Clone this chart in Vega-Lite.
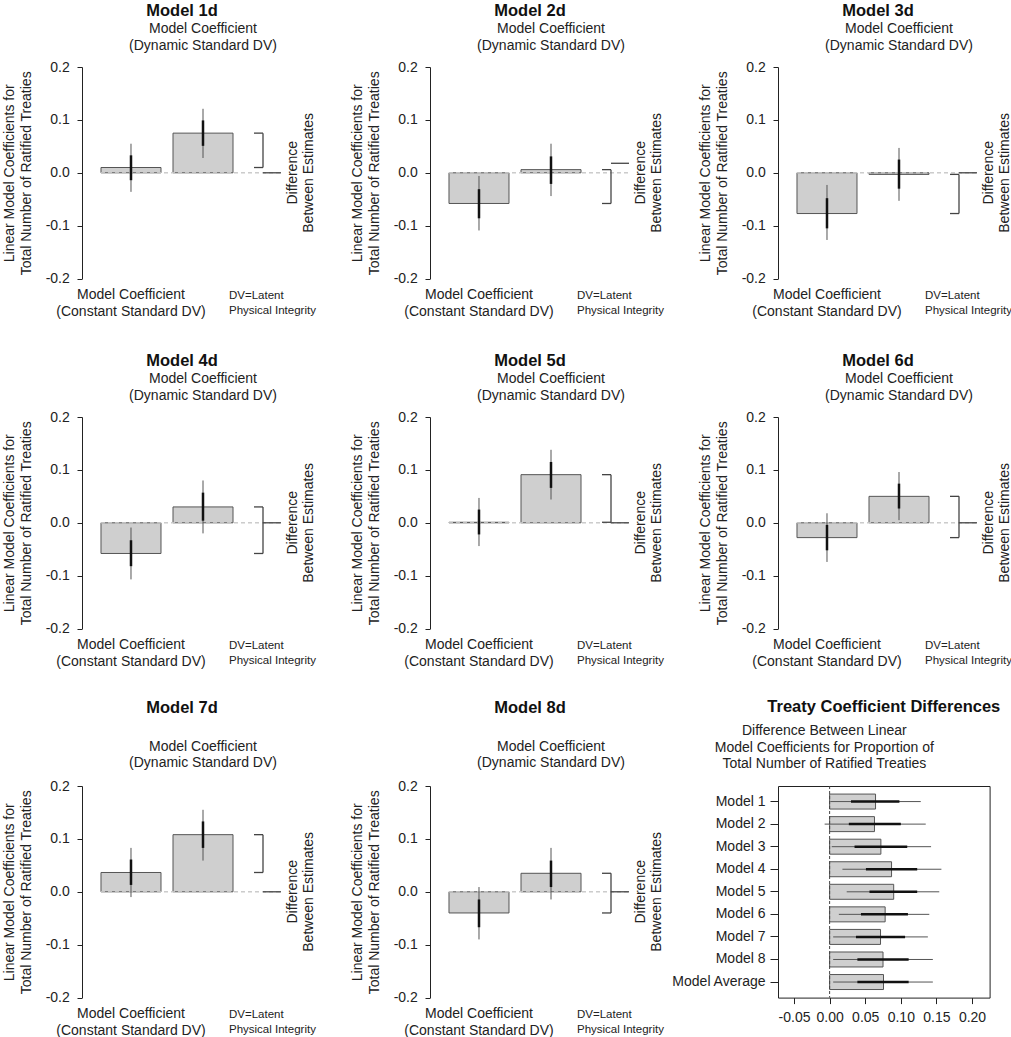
{
  "$schema": "https://vega.github.io/schema/vega-lite/v6.json",
  "padding": {"left": 2, "top": 2, "right": 0, "bottom": 0},
  "datasets": {
    "coef": [
      {"model": "1d", "dv": "Constant", "est": 0.010, "lo95": -0.036, "hi95": 0.055, "lo": -0.014, "hi": 0.033, "ref": 0},
      {"model": "1d", "dv": "Dynamic", "est": 0.075, "lo95": 0.028, "hi95": 0.121, "lo": 0.051, "hi": 0.099, "ref": 0},
      {"model": "2d", "dv": "Constant", "est": -0.058, "lo95": -0.109, "hi95": -0.006, "lo": -0.086, "hi": -0.031, "ref": 0.018},
      {"model": "2d", "dv": "Dynamic", "est": 0.006, "lo95": -0.044, "hi95": 0.055, "lo": -0.021, "hi": 0.031, "ref": 0.018},
      {"model": "3d", "dv": "Constant", "est": -0.077, "lo95": -0.127, "hi95": -0.023, "lo": -0.105, "hi": -0.048, "ref": 0},
      {"model": "3d", "dv": "Dynamic", "est": -0.003, "lo95": -0.053, "hi95": 0.047, "lo": -0.030, "hi": 0.025, "ref": 0},
      {"model": "4d", "dv": "Constant", "est": -0.058, "lo95": -0.107, "hi95": -0.009, "lo": -0.082, "hi": -0.033, "ref": 0},
      {"model": "4d", "dv": "Dynamic", "est": 0.030, "lo95": -0.020, "hi95": 0.080, "lo": 0.004, "hi": 0.057, "ref": 0},
      {"model": "5d", "dv": "Constant", "est": 0.001, "lo95": -0.044, "hi95": 0.047, "lo": -0.022, "hi": 0.025, "ref": 0},
      {"model": "5d", "dv": "Dynamic", "est": 0.091, "lo95": 0.044, "hi95": 0.138, "lo": 0.066, "hi": 0.115, "ref": 0},
      {"model": "6d", "dv": "Constant", "est": -0.028, "lo95": -0.074, "hi95": 0.018, "lo": -0.052, "hi": -0.004, "ref": 0},
      {"model": "6d", "dv": "Dynamic", "est": 0.050, "lo95": 0.005, "hi95": 0.096, "lo": 0.027, "hi": 0.074, "ref": 0},
      {"model": "7d", "dv": "Constant", "est": 0.0365, "lo95": -0.010, "hi95": 0.083, "lo": 0.013, "hi": 0.061, "ref": 0},
      {"model": "7d", "dv": "Dynamic", "est": 0.108, "lo95": 0.059, "hi95": 0.155, "lo": 0.083, "hi": 0.133, "ref": 0},
      {"model": "8d", "dv": "Constant", "est": -0.040, "lo95": -0.090, "hi95": 0.009, "lo": -0.067, "hi": -0.0145, "ref": 0},
      {"model": "8d", "dv": "Dynamic", "est": 0.035, "lo95": -0.0145, "hi95": 0.083, "lo": 0.009, "hi": 0.059, "ref": 0}
    ],
    "diff": [
      {"model": "Model 1", "est": 0.0645, "lo95": 0.001, "hi95": 0.128, "lo": 0.030, "hi": 0.098},
      {"model": "Model 2", "est": 0.063, "lo95": -0.007, "hi95": 0.135, "lo": 0.027, "hi": 0.100},
      {"model": "Model 3", "est": 0.072, "lo95": 0.003, "hi95": 0.1425, "lo": 0.035, "hi": 0.109},
      {"model": "Model 4", "est": 0.087, "lo95": 0.018, "hi95": 0.157, "lo": 0.051, "hi": 0.123},
      {"model": "Model 5", "est": 0.090, "lo95": 0.024, "hi95": 0.154, "lo": 0.056, "hi": 0.123},
      {"model": "Model 6", "est": 0.078, "lo95": 0.013, "hi95": 0.140, "lo": 0.044, "hi": 0.110},
      {"model": "Model 7", "est": 0.0715, "lo95": 0.005, "hi95": 0.138, "lo": 0.037, "hi": 0.106},
      {"model": "Model 8", "est": 0.075, "lo95": 0.005, "hi95": 0.145, "lo": 0.039, "hi": 0.111},
      {"model": "Model Average", "est": 0.0757, "lo95": 0.005, "hi95": 0.145, "lo": 0.039, "hi": 0.111}
    ]
  },
  "bounds": "full",
  "spacing": 29,
  "vconcat": [
    {
      "bounds": "full",
      "spacing": 33,
      "vconcat": [
        {
          "hconcat": [
            {
              "width": 200, "height": 211.6,
              "title": {"text": "Model 1d", "offset": 3},
              "data": {"name": "coef"},
              "transform": [{"filter": "datum.model == '1d'"}],
              "layer": [
                {"mark": {"type": "bar", "fill": "#cfcfcf", "stroke": "#555", "strokeWidth": 1},
                 "encoding": {
                   "x": {"field": "dv", "type": "nominal", "scale": {"domain": ["Constant", "Dynamic"], "paddingInner": 0.1667, "paddingOuter": 0.4722, "align": 0.2794}, "axis": null},
                   "y": {"field": "est", "type": "quantitative", "scale": {"domain": [-0.2, 0.2], "nice": false},
                         "axis": {"values": [-0.2, -0.1, 0, 0.1, 0.2], "labelExpr": "replace(format(datum.value, '.1f'), '\u2212', '-')", "title": ["Linear Model Coefficients for", "Total Number of Ratified Treaties"]}},
                   "y2": {"datum": 0}}},
                {"mark": {"type": "rule", "color": "#c8c8c8", "strokeDash": [4, 3]},
                 "encoding": {"x": {"datum": "Constant", "bandPosition": 0}, "x2": {"datum": "Dynamic", "bandPosition": 1.8}, "y": {"datum": 0}}},
                {"mark": {"type": "rule", "color": "#555", "strokeWidth": 1},
                 "encoding": {"x": {"field": "dv", "type": "nominal"}, "y": {"field": "lo95", "type": "quantitative"}, "y2": {"field": "hi95"}}},
                {"mark": {"type": "rule", "color": "#111", "strokeWidth": 2.5},
                 "encoding": {"x": {"field": "dv", "type": "nominal"}, "y": {"field": "lo", "type": "quantitative"}, "y2": {"field": "hi"}}},
                {"transform": [{"aggregate": [{"op": "min", "field": "est", "as": "lo_est"}, {"op": "max", "field": "est", "as": "hi_est"}]}],
                 "mark": {"type": "rule", "color": "#444", "strokeWidth": 1.3},
                 "encoding": {"x": {"datum": "Dynamic", "bandPosition": 1.5}, "y": {"field": "lo_est", "type": "quantitative"}, "y2": {"field": "hi_est"}}},
                {"mark": {"type": "rule", "color": "#444", "strokeWidth": 1.3},
                 "encoding": {"x": {"datum": "Dynamic", "bandPosition": 1.35}, "x2": {"datum": "Dynamic", "bandPosition": 1.5}, "y": {"field": "est", "type": "quantitative"}}},
                {"transform": [{"filter": "datum.dv == 'Dynamic'"}],
                 "mark": {"type": "rule", "color": "#444", "strokeWidth": 1.3},
                 "encoding": {"x": {"datum": "Dynamic", "bandPosition": 1.5}, "x2": {"datum": "Dynamic", "bandPosition": 1.8}, "y": {"field": "ref", "type": "quantitative"}}},
                {"transform": [{"filter": "datum.dv == 'Dynamic'"}],
                 "mark": {"type": "text", "fontSize": 14, "lineHeight": 16.7, "align": "center", "baseline": "alphabetic"},
                 "encoding": {"x": {"datum": "Dynamic", "bandPosition": 0.5}, "y": {"datum": 0.2637}, "text": {"value": ["Model Coefficient", "(Dynamic Standard DV)"]}}},
                {"transform": [{"filter": "datum.dv == 'Dynamic'"}],
                 "mark": {"type": "text", "fontSize": 14, "lineHeight": 16.7, "align": "center", "baseline": "alphabetic"},
                 "encoding": {"x": {"datum": "Constant", "bandPosition": 0.5}, "y": {"datum": -0.2391}, "text": {"value": ["Model Coefficient", "(Constant Standard DV)"]}}},
                {"transform": [{"filter": "datum.dv == 'Dynamic'"}],
                 "mark": {"type": "text", "fontSize": 11.5, "lineHeight": 15, "align": "left", "baseline": "alphabetic"},
                 "encoding": {"x": {"datum": "Dynamic", "bandPosition": 0.933}, "y": {"datum": -0.2391}, "text": {"value": ["DV=Latent", "Physical Integrity"]}}},
                {"transform": [{"filter": "datum.dv == 'Dynamic'"}],
                 "mark": {"type": "text", "fontSize": 14, "lineHeight": 16, "align": "center", "baseline": "alphabetic", "angle": 270},
                 "encoding": {"x": {"datum": "Dynamic", "bandPosition": 2.067}, "y": {"datum": 0}, "text": {"value": ["Difference", "Between Estimates"]}}}
              ]
            },
            {
              "width": 200, "height": 211.6,
              "title": {"text": "Model 2d", "offset": 3},
              "data": {"name": "coef"},
              "transform": [{"filter": "datum.model == '2d'"}],
              "layer": [
                {"mark": {"type": "bar", "fill": "#cfcfcf", "stroke": "#555", "strokeWidth": 1},
                 "encoding": {
                   "x": {"field": "dv", "type": "nominal", "scale": {"domain": ["Constant", "Dynamic"], "paddingInner": 0.1667, "paddingOuter": 0.4722, "align": 0.2794}, "axis": null},
                   "y": {"field": "est", "type": "quantitative", "scale": {"domain": [-0.2, 0.2], "nice": false},
                         "axis": {"values": [-0.2, -0.1, 0, 0.1, 0.2], "labelExpr": "replace(format(datum.value, '.1f'), '\u2212', '-')", "title": ["Linear Model Coefficients for", "Total Number of Ratified Treaties"]}},
                   "y2": {"datum": 0}}},
                {"mark": {"type": "rule", "color": "#c8c8c8", "strokeDash": [4, 3]},
                 "encoding": {"x": {"datum": "Constant", "bandPosition": 0}, "x2": {"datum": "Dynamic", "bandPosition": 1.8}, "y": {"datum": 0}}},
                {"mark": {"type": "rule", "color": "#555", "strokeWidth": 1},
                 "encoding": {"x": {"field": "dv", "type": "nominal"}, "y": {"field": "lo95", "type": "quantitative"}, "y2": {"field": "hi95"}}},
                {"mark": {"type": "rule", "color": "#111", "strokeWidth": 2.5},
                 "encoding": {"x": {"field": "dv", "type": "nominal"}, "y": {"field": "lo", "type": "quantitative"}, "y2": {"field": "hi"}}},
                {"transform": [{"aggregate": [{"op": "min", "field": "est", "as": "lo_est"}, {"op": "max", "field": "est", "as": "hi_est"}]}],
                 "mark": {"type": "rule", "color": "#444", "strokeWidth": 1.3},
                 "encoding": {"x": {"datum": "Dynamic", "bandPosition": 1.5}, "y": {"field": "lo_est", "type": "quantitative"}, "y2": {"field": "hi_est"}}},
                {"mark": {"type": "rule", "color": "#444", "strokeWidth": 1.3},
                 "encoding": {"x": {"datum": "Dynamic", "bandPosition": 1.35}, "x2": {"datum": "Dynamic", "bandPosition": 1.5}, "y": {"field": "est", "type": "quantitative"}}},
                {"transform": [{"filter": "datum.dv == 'Dynamic'"}],
                 "mark": {"type": "rule", "color": "#444", "strokeWidth": 1.3},
                 "encoding": {"x": {"datum": "Dynamic", "bandPosition": 1.5}, "x2": {"datum": "Dynamic", "bandPosition": 1.8}, "y": {"field": "ref", "type": "quantitative"}}},
                {"transform": [{"filter": "datum.dv == 'Dynamic'"}],
                 "mark": {"type": "text", "fontSize": 14, "lineHeight": 16.7, "align": "center", "baseline": "alphabetic"},
                 "encoding": {"x": {"datum": "Dynamic", "bandPosition": 0.5}, "y": {"datum": 0.2637}, "text": {"value": ["Model Coefficient", "(Dynamic Standard DV)"]}}},
                {"transform": [{"filter": "datum.dv == 'Dynamic'"}],
                 "mark": {"type": "text", "fontSize": 14, "lineHeight": 16.7, "align": "center", "baseline": "alphabetic"},
                 "encoding": {"x": {"datum": "Constant", "bandPosition": 0.5}, "y": {"datum": -0.2391}, "text": {"value": ["Model Coefficient", "(Constant Standard DV)"]}}},
                {"transform": [{"filter": "datum.dv == 'Dynamic'"}],
                 "mark": {"type": "text", "fontSize": 11.5, "lineHeight": 15, "align": "left", "baseline": "alphabetic"},
                 "encoding": {"x": {"datum": "Dynamic", "bandPosition": 0.933}, "y": {"datum": -0.2391}, "text": {"value": ["DV=Latent", "Physical Integrity"]}}},
                {"transform": [{"filter": "datum.dv == 'Dynamic'"}],
                 "mark": {"type": "text", "fontSize": 14, "lineHeight": 16, "align": "center", "baseline": "alphabetic", "angle": 270},
                 "encoding": {"x": {"datum": "Dynamic", "bandPosition": 2.067}, "y": {"datum": 0}, "text": {"value": ["Difference", "Between Estimates"]}}}
              ]
            },
            {
              "width": 200, "height": 211.6,
              "title": {"text": "Model 3d", "offset": 3},
              "data": {"name": "coef"},
              "transform": [{"filter": "datum.model == '3d'"}],
              "layer": [
                {"mark": {"type": "bar", "fill": "#cfcfcf", "stroke": "#555", "strokeWidth": 1},
                 "encoding": {
                   "x": {"field": "dv", "type": "nominal", "scale": {"domain": ["Constant", "Dynamic"], "paddingInner": 0.1667, "paddingOuter": 0.4722, "align": 0.2794}, "axis": null},
                   "y": {"field": "est", "type": "quantitative", "scale": {"domain": [-0.2, 0.2], "nice": false},
                         "axis": {"values": [-0.2, -0.1, 0, 0.1, 0.2], "labelExpr": "replace(format(datum.value, '.1f'), '\u2212', '-')", "title": ["Linear Model Coefficients for", "Total Number of Ratified Treaties"]}},
                   "y2": {"datum": 0}}},
                {"mark": {"type": "rule", "color": "#c8c8c8", "strokeDash": [4, 3]},
                 "encoding": {"x": {"datum": "Constant", "bandPosition": 0}, "x2": {"datum": "Dynamic", "bandPosition": 1.8}, "y": {"datum": 0}}},
                {"mark": {"type": "rule", "color": "#555", "strokeWidth": 1},
                 "encoding": {"x": {"field": "dv", "type": "nominal"}, "y": {"field": "lo95", "type": "quantitative"}, "y2": {"field": "hi95"}}},
                {"mark": {"type": "rule", "color": "#111", "strokeWidth": 2.5},
                 "encoding": {"x": {"field": "dv", "type": "nominal"}, "y": {"field": "lo", "type": "quantitative"}, "y2": {"field": "hi"}}},
                {"transform": [{"aggregate": [{"op": "min", "field": "est", "as": "lo_est"}, {"op": "max", "field": "est", "as": "hi_est"}]}],
                 "mark": {"type": "rule", "color": "#444", "strokeWidth": 1.3},
                 "encoding": {"x": {"datum": "Dynamic", "bandPosition": 1.5}, "y": {"field": "lo_est", "type": "quantitative"}, "y2": {"field": "hi_est"}}},
                {"mark": {"type": "rule", "color": "#444", "strokeWidth": 1.3},
                 "encoding": {"x": {"datum": "Dynamic", "bandPosition": 1.35}, "x2": {"datum": "Dynamic", "bandPosition": 1.5}, "y": {"field": "est", "type": "quantitative"}}},
                {"transform": [{"filter": "datum.dv == 'Dynamic'"}],
                 "mark": {"type": "rule", "color": "#444", "strokeWidth": 1.3},
                 "encoding": {"x": {"datum": "Dynamic", "bandPosition": 1.5}, "x2": {"datum": "Dynamic", "bandPosition": 1.8}, "y": {"field": "ref", "type": "quantitative"}}},
                {"transform": [{"filter": "datum.dv == 'Dynamic'"}],
                 "mark": {"type": "text", "fontSize": 14, "lineHeight": 16.7, "align": "center", "baseline": "alphabetic"},
                 "encoding": {"x": {"datum": "Dynamic", "bandPosition": 0.5}, "y": {"datum": 0.2637}, "text": {"value": ["Model Coefficient", "(Dynamic Standard DV)"]}}},
                {"transform": [{"filter": "datum.dv == 'Dynamic'"}],
                 "mark": {"type": "text", "fontSize": 14, "lineHeight": 16.7, "align": "center", "baseline": "alphabetic"},
                 "encoding": {"x": {"datum": "Constant", "bandPosition": 0.5}, "y": {"datum": -0.2391}, "text": {"value": ["Model Coefficient", "(Constant Standard DV)"]}}},
                {"transform": [{"filter": "datum.dv == 'Dynamic'"}],
                 "mark": {"type": "text", "fontSize": 11.5, "lineHeight": 15, "align": "left", "baseline": "alphabetic"},
                 "encoding": {"x": {"datum": "Dynamic", "bandPosition": 0.933}, "y": {"datum": -0.2391}, "text": {"value": ["DV=Latent", "Physical Integrity"]}}},
                {"transform": [{"filter": "datum.dv == 'Dynamic'"}],
                 "mark": {"type": "text", "fontSize": 14, "lineHeight": 16, "align": "center", "baseline": "alphabetic", "angle": 270},
                 "encoding": {"x": {"datum": "Dynamic", "bandPosition": 2.067}, "y": {"datum": 0}, "text": {"value": ["Difference", "Between Estimates"]}}}
              ]
            }
          ],
          "spacing": 148,
          "bounds": "flush"
        },
        {
          "hconcat": [
            {
              "width": 200, "height": 211.6,
              "title": {"text": "Model 4d", "offset": 3},
              "data": {"name": "coef"},
              "transform": [{"filter": "datum.model == '4d'"}],
              "layer": [
                {"mark": {"type": "bar", "fill": "#cfcfcf", "stroke": "#555", "strokeWidth": 1},
                 "encoding": {
                   "x": {"field": "dv", "type": "nominal", "scale": {"domain": ["Constant", "Dynamic"], "paddingInner": 0.1667, "paddingOuter": 0.4722, "align": 0.2794}, "axis": null},
                   "y": {"field": "est", "type": "quantitative", "scale": {"domain": [-0.2, 0.2], "nice": false},
                         "axis": {"values": [-0.2, -0.1, 0, 0.1, 0.2], "labelExpr": "replace(format(datum.value, '.1f'), '\u2212', '-')", "title": ["Linear Model Coefficients for", "Total Number of Ratified Treaties"]}},
                   "y2": {"datum": 0}}},
                {"mark": {"type": "rule", "color": "#c8c8c8", "strokeDash": [4, 3]},
                 "encoding": {"x": {"datum": "Constant", "bandPosition": 0}, "x2": {"datum": "Dynamic", "bandPosition": 1.8}, "y": {"datum": 0}}},
                {"mark": {"type": "rule", "color": "#555", "strokeWidth": 1},
                 "encoding": {"x": {"field": "dv", "type": "nominal"}, "y": {"field": "lo95", "type": "quantitative"}, "y2": {"field": "hi95"}}},
                {"mark": {"type": "rule", "color": "#111", "strokeWidth": 2.5},
                 "encoding": {"x": {"field": "dv", "type": "nominal"}, "y": {"field": "lo", "type": "quantitative"}, "y2": {"field": "hi"}}},
                {"transform": [{"aggregate": [{"op": "min", "field": "est", "as": "lo_est"}, {"op": "max", "field": "est", "as": "hi_est"}]}],
                 "mark": {"type": "rule", "color": "#444", "strokeWidth": 1.3},
                 "encoding": {"x": {"datum": "Dynamic", "bandPosition": 1.5}, "y": {"field": "lo_est", "type": "quantitative"}, "y2": {"field": "hi_est"}}},
                {"mark": {"type": "rule", "color": "#444", "strokeWidth": 1.3},
                 "encoding": {"x": {"datum": "Dynamic", "bandPosition": 1.35}, "x2": {"datum": "Dynamic", "bandPosition": 1.5}, "y": {"field": "est", "type": "quantitative"}}},
                {"transform": [{"filter": "datum.dv == 'Dynamic'"}],
                 "mark": {"type": "rule", "color": "#444", "strokeWidth": 1.3},
                 "encoding": {"x": {"datum": "Dynamic", "bandPosition": 1.5}, "x2": {"datum": "Dynamic", "bandPosition": 1.8}, "y": {"field": "ref", "type": "quantitative"}}},
                {"transform": [{"filter": "datum.dv == 'Dynamic'"}],
                 "mark": {"type": "text", "fontSize": 14, "lineHeight": 16.7, "align": "center", "baseline": "alphabetic"},
                 "encoding": {"x": {"datum": "Dynamic", "bandPosition": 0.5}, "y": {"datum": 0.2637}, "text": {"value": ["Model Coefficient", "(Dynamic Standard DV)"]}}},
                {"transform": [{"filter": "datum.dv == 'Dynamic'"}],
                 "mark": {"type": "text", "fontSize": 14, "lineHeight": 16.7, "align": "center", "baseline": "alphabetic"},
                 "encoding": {"x": {"datum": "Constant", "bandPosition": 0.5}, "y": {"datum": -0.2391}, "text": {"value": ["Model Coefficient", "(Constant Standard DV)"]}}},
                {"transform": [{"filter": "datum.dv == 'Dynamic'"}],
                 "mark": {"type": "text", "fontSize": 11.5, "lineHeight": 15, "align": "left", "baseline": "alphabetic"},
                 "encoding": {"x": {"datum": "Dynamic", "bandPosition": 0.933}, "y": {"datum": -0.2391}, "text": {"value": ["DV=Latent", "Physical Integrity"]}}},
                {"transform": [{"filter": "datum.dv == 'Dynamic'"}],
                 "mark": {"type": "text", "fontSize": 14, "lineHeight": 16, "align": "center", "baseline": "alphabetic", "angle": 270},
                 "encoding": {"x": {"datum": "Dynamic", "bandPosition": 2.067}, "y": {"datum": 0}, "text": {"value": ["Difference", "Between Estimates"]}}}
              ]
            },
            {
              "width": 200, "height": 211.6,
              "title": {"text": "Model 5d", "offset": 3},
              "data": {"name": "coef"},
              "transform": [{"filter": "datum.model == '5d'"}],
              "layer": [
                {"mark": {"type": "bar", "fill": "#cfcfcf", "stroke": "#555", "strokeWidth": 1},
                 "encoding": {
                   "x": {"field": "dv", "type": "nominal", "scale": {"domain": ["Constant", "Dynamic"], "paddingInner": 0.1667, "paddingOuter": 0.4722, "align": 0.2794}, "axis": null},
                   "y": {"field": "est", "type": "quantitative", "scale": {"domain": [-0.2, 0.2], "nice": false},
                         "axis": {"values": [-0.2, -0.1, 0, 0.1, 0.2], "labelExpr": "replace(format(datum.value, '.1f'), '\u2212', '-')", "title": ["Linear Model Coefficients for", "Total Number of Ratified Treaties"]}},
                   "y2": {"datum": 0}}},
                {"mark": {"type": "rule", "color": "#c8c8c8", "strokeDash": [4, 3]},
                 "encoding": {"x": {"datum": "Constant", "bandPosition": 0}, "x2": {"datum": "Dynamic", "bandPosition": 1.8}, "y": {"datum": 0}}},
                {"mark": {"type": "rule", "color": "#555", "strokeWidth": 1},
                 "encoding": {"x": {"field": "dv", "type": "nominal"}, "y": {"field": "lo95", "type": "quantitative"}, "y2": {"field": "hi95"}}},
                {"mark": {"type": "rule", "color": "#111", "strokeWidth": 2.5},
                 "encoding": {"x": {"field": "dv", "type": "nominal"}, "y": {"field": "lo", "type": "quantitative"}, "y2": {"field": "hi"}}},
                {"transform": [{"aggregate": [{"op": "min", "field": "est", "as": "lo_est"}, {"op": "max", "field": "est", "as": "hi_est"}]}],
                 "mark": {"type": "rule", "color": "#444", "strokeWidth": 1.3},
                 "encoding": {"x": {"datum": "Dynamic", "bandPosition": 1.5}, "y": {"field": "lo_est", "type": "quantitative"}, "y2": {"field": "hi_est"}}},
                {"mark": {"type": "rule", "color": "#444", "strokeWidth": 1.3},
                 "encoding": {"x": {"datum": "Dynamic", "bandPosition": 1.35}, "x2": {"datum": "Dynamic", "bandPosition": 1.5}, "y": {"field": "est", "type": "quantitative"}}},
                {"transform": [{"filter": "datum.dv == 'Dynamic'"}],
                 "mark": {"type": "rule", "color": "#444", "strokeWidth": 1.3},
                 "encoding": {"x": {"datum": "Dynamic", "bandPosition": 1.5}, "x2": {"datum": "Dynamic", "bandPosition": 1.8}, "y": {"field": "ref", "type": "quantitative"}}},
                {"transform": [{"filter": "datum.dv == 'Dynamic'"}],
                 "mark": {"type": "text", "fontSize": 14, "lineHeight": 16.7, "align": "center", "baseline": "alphabetic"},
                 "encoding": {"x": {"datum": "Dynamic", "bandPosition": 0.5}, "y": {"datum": 0.2637}, "text": {"value": ["Model Coefficient", "(Dynamic Standard DV)"]}}},
                {"transform": [{"filter": "datum.dv == 'Dynamic'"}],
                 "mark": {"type": "text", "fontSize": 14, "lineHeight": 16.7, "align": "center", "baseline": "alphabetic"},
                 "encoding": {"x": {"datum": "Constant", "bandPosition": 0.5}, "y": {"datum": -0.2391}, "text": {"value": ["Model Coefficient", "(Constant Standard DV)"]}}},
                {"transform": [{"filter": "datum.dv == 'Dynamic'"}],
                 "mark": {"type": "text", "fontSize": 11.5, "lineHeight": 15, "align": "left", "baseline": "alphabetic"},
                 "encoding": {"x": {"datum": "Dynamic", "bandPosition": 0.933}, "y": {"datum": -0.2391}, "text": {"value": ["DV=Latent", "Physical Integrity"]}}},
                {"transform": [{"filter": "datum.dv == 'Dynamic'"}],
                 "mark": {"type": "text", "fontSize": 14, "lineHeight": 16, "align": "center", "baseline": "alphabetic", "angle": 270},
                 "encoding": {"x": {"datum": "Dynamic", "bandPosition": 2.067}, "y": {"datum": 0}, "text": {"value": ["Difference", "Between Estimates"]}}}
              ]
            },
            {
              "width": 200, "height": 211.6,
              "title": {"text": "Model 6d", "offset": 3},
              "data": {"name": "coef"},
              "transform": [{"filter": "datum.model == '6d'"}],
              "layer": [
                {"mark": {"type": "bar", "fill": "#cfcfcf", "stroke": "#555", "strokeWidth": 1},
                 "encoding": {
                   "x": {"field": "dv", "type": "nominal", "scale": {"domain": ["Constant", "Dynamic"], "paddingInner": 0.1667, "paddingOuter": 0.4722, "align": 0.2794}, "axis": null},
                   "y": {"field": "est", "type": "quantitative", "scale": {"domain": [-0.2, 0.2], "nice": false},
                         "axis": {"values": [-0.2, -0.1, 0, 0.1, 0.2], "labelExpr": "replace(format(datum.value, '.1f'), '\u2212', '-')", "title": ["Linear Model Coefficients for", "Total Number of Ratified Treaties"]}},
                   "y2": {"datum": 0}}},
                {"mark": {"type": "rule", "color": "#c8c8c8", "strokeDash": [4, 3]},
                 "encoding": {"x": {"datum": "Constant", "bandPosition": 0}, "x2": {"datum": "Dynamic", "bandPosition": 1.8}, "y": {"datum": 0}}},
                {"mark": {"type": "rule", "color": "#555", "strokeWidth": 1},
                 "encoding": {"x": {"field": "dv", "type": "nominal"}, "y": {"field": "lo95", "type": "quantitative"}, "y2": {"field": "hi95"}}},
                {"mark": {"type": "rule", "color": "#111", "strokeWidth": 2.5},
                 "encoding": {"x": {"field": "dv", "type": "nominal"}, "y": {"field": "lo", "type": "quantitative"}, "y2": {"field": "hi"}}},
                {"transform": [{"aggregate": [{"op": "min", "field": "est", "as": "lo_est"}, {"op": "max", "field": "est", "as": "hi_est"}]}],
                 "mark": {"type": "rule", "color": "#444", "strokeWidth": 1.3},
                 "encoding": {"x": {"datum": "Dynamic", "bandPosition": 1.5}, "y": {"field": "lo_est", "type": "quantitative"}, "y2": {"field": "hi_est"}}},
                {"mark": {"type": "rule", "color": "#444", "strokeWidth": 1.3},
                 "encoding": {"x": {"datum": "Dynamic", "bandPosition": 1.35}, "x2": {"datum": "Dynamic", "bandPosition": 1.5}, "y": {"field": "est", "type": "quantitative"}}},
                {"transform": [{"filter": "datum.dv == 'Dynamic'"}],
                 "mark": {"type": "rule", "color": "#444", "strokeWidth": 1.3},
                 "encoding": {"x": {"datum": "Dynamic", "bandPosition": 1.5}, "x2": {"datum": "Dynamic", "bandPosition": 1.8}, "y": {"field": "ref", "type": "quantitative"}}},
                {"transform": [{"filter": "datum.dv == 'Dynamic'"}],
                 "mark": {"type": "text", "fontSize": 14, "lineHeight": 16.7, "align": "center", "baseline": "alphabetic"},
                 "encoding": {"x": {"datum": "Dynamic", "bandPosition": 0.5}, "y": {"datum": 0.2637}, "text": {"value": ["Model Coefficient", "(Dynamic Standard DV)"]}}},
                {"transform": [{"filter": "datum.dv == 'Dynamic'"}],
                 "mark": {"type": "text", "fontSize": 14, "lineHeight": 16.7, "align": "center", "baseline": "alphabetic"},
                 "encoding": {"x": {"datum": "Constant", "bandPosition": 0.5}, "y": {"datum": -0.2391}, "text": {"value": ["Model Coefficient", "(Constant Standard DV)"]}}},
                {"transform": [{"filter": "datum.dv == 'Dynamic'"}],
                 "mark": {"type": "text", "fontSize": 11.5, "lineHeight": 15, "align": "left", "baseline": "alphabetic"},
                 "encoding": {"x": {"datum": "Dynamic", "bandPosition": 0.933}, "y": {"datum": -0.2391}, "text": {"value": ["DV=Latent", "Physical Integrity"]}}},
                {"transform": [{"filter": "datum.dv == 'Dynamic'"}],
                 "mark": {"type": "text", "fontSize": 14, "lineHeight": 16, "align": "center", "baseline": "alphabetic", "angle": 270},
                 "encoding": {"x": {"datum": "Dynamic", "bandPosition": 2.067}, "y": {"datum": 0}, "text": {"value": ["Difference", "Between Estimates"]}}}
              ]
            }
          ],
          "spacing": 148,
          "bounds": "flush"
        }
      ]
    },
    {
      "hconcat": [
        {
          "width": 200, "height": 211.6,
          "title": {"text": "Model 7d", "offset": 23.5},
          "data": {"name": "coef"},
          "transform": [{"filter": "datum.model == '7d'"}],
          "layer": [
            {"mark": {"type": "bar", "fill": "#cfcfcf", "stroke": "#555", "strokeWidth": 1},
             "encoding": {
               "x": {"field": "dv", "type": "nominal", "scale": {"domain": ["Constant", "Dynamic"], "paddingInner": 0.1667, "paddingOuter": 0.4722, "align": 0.2794}, "axis": null},
               "y": {"field": "est", "type": "quantitative", "scale": {"domain": [-0.2, 0.2], "nice": false},
                     "axis": {"values": [-0.2, -0.1, 0, 0.1, 0.2], "labelExpr": "replace(format(datum.value, '.1f'), '\u2212', '-')", "title": ["Linear Model Coefficients for", "Total Number of Ratified Treaties"]}},
               "y2": {"datum": 0}}},
            {"mark": {"type": "rule", "color": "#c8c8c8", "strokeDash": [4, 3]},
             "encoding": {"x": {"datum": "Constant", "bandPosition": 0}, "x2": {"datum": "Dynamic", "bandPosition": 1.8}, "y": {"datum": 0}}},
            {"mark": {"type": "rule", "color": "#555", "strokeWidth": 1},
             "encoding": {"x": {"field": "dv", "type": "nominal"}, "y": {"field": "lo95", "type": "quantitative"}, "y2": {"field": "hi95"}}},
            {"mark": {"type": "rule", "color": "#111", "strokeWidth": 2.5},
             "encoding": {"x": {"field": "dv", "type": "nominal"}, "y": {"field": "lo", "type": "quantitative"}, "y2": {"field": "hi"}}},
            {"transform": [{"aggregate": [{"op": "min", "field": "est", "as": "lo_est"}, {"op": "max", "field": "est", "as": "hi_est"}]}],
             "mark": {"type": "rule", "color": "#444", "strokeWidth": 1.3},
             "encoding": {"x": {"datum": "Dynamic", "bandPosition": 1.5}, "y": {"field": "lo_est", "type": "quantitative"}, "y2": {"field": "hi_est"}}},
            {"mark": {"type": "rule", "color": "#444", "strokeWidth": 1.3},
             "encoding": {"x": {"datum": "Dynamic", "bandPosition": 1.35}, "x2": {"datum": "Dynamic", "bandPosition": 1.5}, "y": {"field": "est", "type": "quantitative"}}},
            {"transform": [{"filter": "datum.dv == 'Dynamic'"}],
             "mark": {"type": "rule", "color": "#444", "strokeWidth": 1.3},
             "encoding": {"x": {"datum": "Dynamic", "bandPosition": 1.5}, "x2": {"datum": "Dynamic", "bandPosition": 1.8}, "y": {"field": "ref", "type": "quantitative"}}},
            {"transform": [{"filter": "datum.dv == 'Dynamic'"}],
             "mark": {"type": "text", "fontSize": 14, "lineHeight": 16.7, "align": "center", "baseline": "alphabetic"},
             "encoding": {"x": {"datum": "Dynamic", "bandPosition": 0.5}, "y": {"datum": 0.2669}, "text": {"value": ["Model Coefficient", "(Dynamic Standard DV)"]}}},
            {"transform": [{"filter": "datum.dv == 'Dynamic'"}],
             "mark": {"type": "text", "fontSize": 14, "lineHeight": 16.7, "align": "center", "baseline": "alphabetic"},
             "encoding": {"x": {"datum": "Constant", "bandPosition": 0.5}, "y": {"datum": -0.2391}, "text": {"value": ["Model Coefficient", "(Constant Standard DV)"]}}},
            {"transform": [{"filter": "datum.dv == 'Dynamic'"}],
             "mark": {"type": "text", "fontSize": 11.5, "lineHeight": 15, "align": "left", "baseline": "alphabetic"},
             "encoding": {"x": {"datum": "Dynamic", "bandPosition": 0.933}, "y": {"datum": -0.2391}, "text": {"value": ["DV=Latent", "Physical Integrity"]}}},
            {"transform": [{"filter": "datum.dv == 'Dynamic'"}],
             "mark": {"type": "text", "fontSize": 14, "lineHeight": 16, "align": "center", "baseline": "alphabetic", "angle": 270},
             "encoding": {"x": {"datum": "Dynamic", "bandPosition": 2.067}, "y": {"datum": 0}, "text": {"value": ["Difference", "Between Estimates"]}}}
          ]
        },
        {
          "width": 200, "height": 211.6,
          "title": {"text": "Model 8d", "offset": 23.5},
          "data": {"name": "coef"},
          "transform": [{"filter": "datum.model == '8d'"}],
          "layer": [
            {"mark": {"type": "bar", "fill": "#cfcfcf", "stroke": "#555", "strokeWidth": 1},
             "encoding": {
               "x": {"field": "dv", "type": "nominal", "scale": {"domain": ["Constant", "Dynamic"], "paddingInner": 0.1667, "paddingOuter": 0.4722, "align": 0.2794}, "axis": null},
               "y": {"field": "est", "type": "quantitative", "scale": {"domain": [-0.2, 0.2], "nice": false},
                     "axis": {"values": [-0.2, -0.1, 0, 0.1, 0.2], "labelExpr": "replace(format(datum.value, '.1f'), '\u2212', '-')", "title": ["Linear Model Coefficients for", "Total Number of Ratified Treaties"]}},
               "y2": {"datum": 0}}},
            {"mark": {"type": "rule", "color": "#c8c8c8", "strokeDash": [4, 3]},
             "encoding": {"x": {"datum": "Constant", "bandPosition": 0}, "x2": {"datum": "Dynamic", "bandPosition": 1.8}, "y": {"datum": 0}}},
            {"mark": {"type": "rule", "color": "#555", "strokeWidth": 1},
             "encoding": {"x": {"field": "dv", "type": "nominal"}, "y": {"field": "lo95", "type": "quantitative"}, "y2": {"field": "hi95"}}},
            {"mark": {"type": "rule", "color": "#111", "strokeWidth": 2.5},
             "encoding": {"x": {"field": "dv", "type": "nominal"}, "y": {"field": "lo", "type": "quantitative"}, "y2": {"field": "hi"}}},
            {"transform": [{"aggregate": [{"op": "min", "field": "est", "as": "lo_est"}, {"op": "max", "field": "est", "as": "hi_est"}]}],
             "mark": {"type": "rule", "color": "#444", "strokeWidth": 1.3},
             "encoding": {"x": {"datum": "Dynamic", "bandPosition": 1.5}, "y": {"field": "lo_est", "type": "quantitative"}, "y2": {"field": "hi_est"}}},
            {"mark": {"type": "rule", "color": "#444", "strokeWidth": 1.3},
             "encoding": {"x": {"datum": "Dynamic", "bandPosition": 1.35}, "x2": {"datum": "Dynamic", "bandPosition": 1.5}, "y": {"field": "est", "type": "quantitative"}}},
            {"transform": [{"filter": "datum.dv == 'Dynamic'"}],
             "mark": {"type": "rule", "color": "#444", "strokeWidth": 1.3},
             "encoding": {"x": {"datum": "Dynamic", "bandPosition": 1.5}, "x2": {"datum": "Dynamic", "bandPosition": 1.8}, "y": {"field": "ref", "type": "quantitative"}}},
            {"transform": [{"filter": "datum.dv == 'Dynamic'"}],
             "mark": {"type": "text", "fontSize": 14, "lineHeight": 16.7, "align": "center", "baseline": "alphabetic"},
             "encoding": {"x": {"datum": "Dynamic", "bandPosition": 0.5}, "y": {"datum": 0.2669}, "text": {"value": ["Model Coefficient", "(Dynamic Standard DV)"]}}},
            {"transform": [{"filter": "datum.dv == 'Dynamic'"}],
             "mark": {"type": "text", "fontSize": 14, "lineHeight": 16.7, "align": "center", "baseline": "alphabetic"},
             "encoding": {"x": {"datum": "Constant", "bandPosition": 0.5}, "y": {"datum": -0.2391}, "text": {"value": ["Model Coefficient", "(Constant Standard DV)"]}}},
            {"transform": [{"filter": "datum.dv == 'Dynamic'"}],
             "mark": {"type": "text", "fontSize": 11.5, "lineHeight": 15, "align": "left", "baseline": "alphabetic"},
             "encoding": {"x": {"datum": "Dynamic", "bandPosition": 0.933}, "y": {"datum": -0.2391}, "text": {"value": ["DV=Latent", "Physical Integrity"]}}},
            {"transform": [{"filter": "datum.dv == 'Dynamic'"}],
             "mark": {"type": "text", "fontSize": 14, "lineHeight": 16, "align": "center", "baseline": "alphabetic", "angle": 270},
             "encoding": {"x": {"datum": "Dynamic", "bandPosition": 2.067}, "y": {"datum": 0}, "text": {"value": ["Difference", "Between Estimates"]}}}
          ]
        },
        {
          "width": 211.6, "height": 211.6,
          "view": {"stroke": "#222", "strokeWidth": 1},
          "title": {"text": "Treaty Coefficient Differences", "offset": 8},
          "data": {"name": "diff"},
          "layer": [
            {"mark": {"type": "bar", "fill": "#cfcfcf", "stroke": "#555", "strokeWidth": 1},
             "encoding": {
               "y": {"field": "model", "type": "nominal", "sort": null, "scale": {"paddingInner": 0.336, "paddingOuter": 0.358},
                     "axis": {"title": null, "tickSize": 8, "labelPadding": 5, "domain": false}},
               "x": {"field": "est", "type": "quantitative", "scale": {"domain": [-0.0725, 0.2247], "nice": false, "zero": false},
                     "axis": {"values": [-0.05, 0, 0.05, 0.1, 0.15, 0.2], "labelExpr": "replace(format(datum.value, '.2f'), '\u2212', '-')", "title": null, "tickSize": 6, "labelPadding": 7, "domain": false}},
               "x2": {"datum": 0}}},
            {"mark": {"type": "rule", "color": "#555", "strokeWidth": 1},
             "encoding": {"y": {"field": "model", "type": "nominal", "sort": null}, "x": {"field": "lo95", "type": "quantitative"}, "x2": {"field": "hi95"}}},
            {"mark": {"type": "rule", "color": "#111", "strokeWidth": 2.5},
             "encoding": {"y": {"field": "model", "type": "nominal", "sort": null}, "x": {"field": "lo", "type": "quantitative"}, "x2": {"field": "hi"}}},
            {"transform": [{"filter": "datum.model == 'Model 1'"}],
             "mark": {"type": "rule", "color": "#444", "strokeWidth": 1, "strokeDash": [3, 2]},
             "encoding": {"x": {"datum": 0}}},
            {"transform": [{"filter": "datum.model == 'Model 1'"}],
             "mark": {"type": "text", "fontSize": 14, "lineHeight": 16.7, "align": "center", "baseline": "alphabetic", "dy": -66.6},
             "encoding": {"x": {"datum": -0.0074}, "y": {"field": "model", "type": "nominal", "sort": null},
                          "text": {"value": ["Difference Between Linear", "Model Coefficients for Proportion of", "Total Number of Ratified Treaties"]}}}
          ]
        }
      ],
      "spacing": 148,
      "bounds": "flush"
    }
  ],
  "config": {
    "font": "Liberation Sans",
    "view": {"stroke": null},
    "axis": {"grid": false, "labelFontSize": 14, "labelColor": "#222", "domainColor": "#222", "tickColor": "#222",
             "titleFontSize": 14, "titleFontWeight": "normal", "titleColor": "#222", "titleLineHeight": 16.3, "titlePadding": 12},
    "axisY": {"tickSize": 5, "labelPadding": 7.7},
    "title": {"fontSize": 16.5, "fontWeight": "bold", "color": "#111", "anchor": "middle", "frame": "group"},
    "text": {"color": "#222"}
  }
}
